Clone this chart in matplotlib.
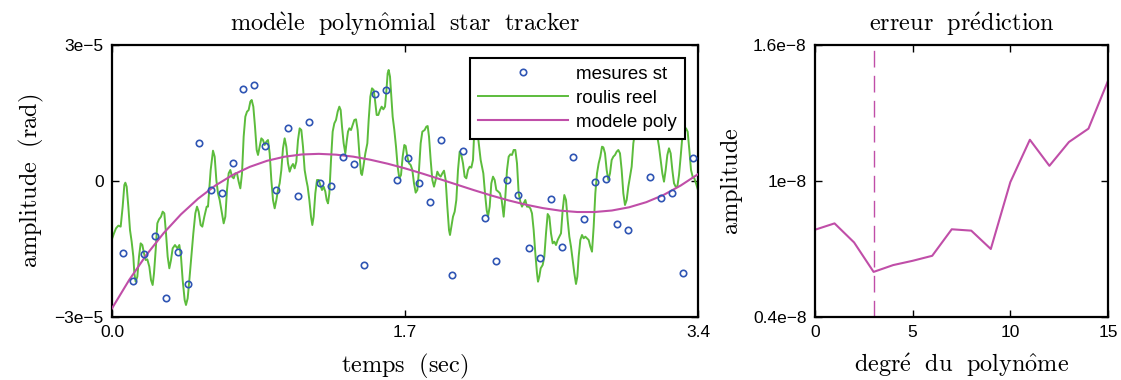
import matplotlib
matplotlib.use("Agg")
import matplotlib.pyplot as plt
from matplotlib.lines import Line2D

# ---------------- data (left panel, values in units of 1e-5 rad) ----------------
meas_t = [0.0621, 0.1236, 0.1874, 0.2512, 0.3150, 0.3812, 0.4427, 0.5065, 0.5744, 0.6365,
          0.7003, 0.7618, 0.8256, 0.8894, 0.9533, 1.0194, 1.0792, 1.1447, 1.2086, 1.2724,
          1.3385, 1.4024, 1.4621, 1.5277, 1.5897, 1.6518, 1.7191, 1.7829, 1.8450, 1.9100,
          1.9727, 2.0383, 2.1659, 2.2291, 2.2918, 2.3556, 2.4212, 2.4833, 2.5471, 2.6109,
          2.6747, 2.7385, 2.8006, 2.8662, 2.9283, 2.9950, 3.1215, 3.1865, 3.2491, 3.3118,
          3.3727]
meas_v = [-1.588, -2.199, -1.604, -1.213, -2.588, -1.560, -2.265, 0.845, -0.199, -0.258,
          0.404, 2.029, 2.118, 0.772, -0.199, 1.163, -0.338, 1.308, -0.037, -0.110,
          0.523, 0.368, -1.860, 1.926, 2.001, 0.029, 0.514, -0.037, -0.468, 0.904,
          -2.078, 0.668, -0.823, -1.765, 0.033, -0.309, -1.485, -1.705, -0.390, -1.463,
          0.529, -0.845, -0.022, 0.037, -0.944, -1.085, 0.093, -0.375, -0.265, -2.029,
          0.514]

true_t = [0.0, 0.0116, 0.0232, 0.0367, 0.0503, 0.0619, 0.0716, 0.0774, 0.0851, 0.0948,
          0.1044, 0.1141, 0.1238, 0.1296, 0.1373, 0.1470, 0.1567, 0.1663, 0.1760, 0.1857,
          0.1953, 0.2050, 0.2166, 0.2263, 0.2359, 0.2437, 0.2534, 0.2630, 0.2727, 0.2843,
          0.2940, 0.3036, 0.3133, 0.3230, 0.3326, 0.3423, 0.3520, 0.3655, 0.3791, 0.3907,
          0.4003, 0.4100, 0.4216, 0.4293, 0.4390, 0.4487, 0.4603, 0.4719, 0.4835, 0.4932,
          0.5028, 0.5144, 0.5241, 0.5357, 0.5493, 0.5570, 0.5725, 0.5860, 0.5957, 0.6054,
          0.6150, 0.6247, 0.6344, 0.6479, 0.6576, 0.6672, 0.6769, 0.6866, 0.6962, 0.7059,
          0.7156, 0.7253, 0.7349, 0.7446, 0.7543, 0.7639, 0.7736, 0.7833, 0.7929, 0.8026,
          0.8104, 0.8200, 0.8297, 0.8394, 0.8471, 0.8568, 0.8664, 0.8761, 0.8858, 0.8955,
          0.9051, 0.9148, 0.9245, 0.9341, 0.9438, 0.9535, 0.9631, 0.9728, 0.9825, 0.9921,
          1.0018, 1.0115, 1.0211, 1.0308, 1.0405, 1.0501, 1.0598, 1.0695, 1.0792, 1.0888,
          1.0985, 1.1082, 1.1178, 1.1275, 1.1353, 1.1450, 1.1546, 1.1623, 1.1700, 1.1797,
          1.1894, 1.1991, 1.2088, 1.2184, 1.2281, 1.2378, 1.2455, 1.2533, 1.2610, 1.2707,
          1.2803, 1.2900, 1.2997, 1.3093, 1.3190, 1.3267, 1.3345, 1.3441, 1.3538, 1.3615,
          1.3693, 1.3770, 1.3867, 1.3964, 1.4060, 1.4157, 1.4254, 1.4350, 1.4447, 1.4505,
          1.4583, 1.4699, 1.4815, 1.4892, 1.4989, 1.5085, 1.5182, 1.5259, 1.5356, 1.5453,
          1.5550, 1.5646, 1.5743, 1.5840, 1.5917, 1.5994, 1.6052, 1.6130, 1.6207, 1.6284,
          1.6381, 1.6478, 1.6574, 1.6671, 1.6768, 1.6865, 1.6961, 1.7039, 1.7135, 1.7232,
          1.7329, 1.7426, 1.7522, 1.7619, 1.7716, 1.7812, 1.7909, 1.8006, 1.8141, 1.8238,
          1.8315, 1.8393, 1.8489, 1.8586, 1.8683, 1.8779, 1.8876, 1.8973, 1.9069, 1.9166,
          1.9263, 1.9360, 1.9456, 1.9553, 1.9611, 1.9688, 1.9785, 1.9882, 1.9978, 2.0075,
          2.0172, 2.0268, 2.0365, 2.0462, 2.0558, 2.0655, 2.0752, 2.0849, 2.0945, 2.1003,
          2.1100, 2.1177, 2.1235, 2.1390, 2.1545, 2.1642, 2.1738, 2.1816, 2.1913, 2.2009,
          2.2106, 2.2203, 2.2299, 2.2415, 2.2512, 2.2609, 2.2725, 2.2821, 2.2918, 2.3015,
          2.3112, 2.3208, 2.3305, 2.3402, 2.3498, 2.3595, 2.3692, 2.3788, 2.3885, 2.3982,
          2.4078, 2.4175, 2.4272, 2.4368, 2.4465, 2.4562, 2.4659, 2.4717, 2.4794, 2.4871,
          2.4988, 2.5084, 2.5181, 2.5278, 2.5374, 2.5471, 2.5568, 2.5664, 2.5761, 2.5858,
          2.5954, 2.6051, 2.6148, 2.6244, 2.6341, 2.6438, 2.6535, 2.6631, 2.6728, 2.6825,
          2.6921, 2.6999, 2.7076, 2.7173, 2.7270, 2.7366, 2.7463, 2.7560, 2.7656, 2.7753,
          2.7850, 2.7947, 2.8043, 2.8140, 2.8237, 2.8333, 2.8430, 2.8507, 2.8604, 2.8701,
          2.8797, 2.8894, 2.8991, 2.9088, 2.9184, 2.9281, 2.9378, 2.9474, 2.9571, 2.9668,
          2.9764, 2.9861, 2.9958, 3.0054, 3.0151, 3.0248, 3.0306, 3.0441, 3.0635, 3.0828,
          3.1022, 3.1312, 3.1505, 3.1640, 3.1737, 3.1834, 3.1931, 3.2027, 3.2124, 3.2221,
          3.2317, 3.2414, 3.2511, 3.2608, 3.2704, 3.2801, 3.2898, 3.2994, 3.3091, 3.3188,
          3.3304, 3.3400, 3.3497, 3.3594, 3.3690, 3.3787, 3.3884, 3.4000]
true_v = [-1.279, -1.154, -1.044, -0.985, -1.007, -0.566, -0.088, -0.037, -0.125, -0.566,
          -1.081, -1.338, -1.669, -2.037, -2.221, -2.110, -1.669, -1.375, -1.412, -1.596,
          -1.743, -1.728, -1.890, -2.184, -2.294, -2.037, -1.522, -0.934, -0.846, -0.787,
          -0.676, -0.713, -1.154, -1.669, -1.926, -1.743, -1.485, -1.412, -1.485, -1.412,
          -1.669, -2.184, -2.625, -2.735, -2.588, -2.184, -1.669, -1.154, -0.713, -0.566,
          -0.676, -0.971, -1.007, -0.787, -0.566, -0.566, 0.243, 0.669, 0.537, 0.022,
          -0.272, -0.419, -0.640, -0.934, -0.787, -0.199, 0.169, 0.243, 0.096, 0.059,
          0.169, 0.169, -0.015, -0.162, 0.169, 0.978, 1.419, 1.529, 1.566, 1.750,
          1.787, 1.640, 1.199, 0.684, 0.574, 0.757, 0.941, 0.904, 0.794, 0.868,
          0.904, 0.610, 0.022, -0.419, -0.603, -0.419, -0.199, -0.051, 0.243, 0.721,
          0.941, 0.757, 0.390, 0.206, 0.316, 0.375, 0.279, 0.426, 0.904, 1.162,
          1.125, 0.757, 0.243, 0.022, -0.125, -0.419, -0.787, -0.971, -0.787, -0.272,
          0.022, 0.022, -0.088, -0.199, -0.125, -0.235, -0.419, -0.493, -0.272, 0.463,
          1.088, 1.272, 1.346, 1.529, 1.640, 1.566, 1.199, 0.831, 0.610, 0.868,
          1.088, 1.162, 1.125, 1.235, 1.346, 1.360, 1.125, 0.610, 0.169, 0.132,
          0.316, 0.610, 0.831, 1.346, 1.860, 2.044, 2.007, 1.787, 1.456, 1.456,
          1.566, 1.640, 1.581, 1.640, 1.971, 2.375, 2.449, 2.302, 1.860, 1.419,
          1.125, 0.757, 0.316, 0.059, 0.132, 0.537, 0.794, 0.772, 0.537, 0.390,
          0.353, 0.243, -0.051, -0.257, -0.199, 0.243, 0.831, 1.088, 1.125, 1.199,
          1.213, 0.978, 0.463, 0.022, -0.125, 0.022, 0.206, 0.132, 0.096, 0.169,
          0.228, 0.022, -0.566, -1.081, -1.191, -1.007, -0.787, -0.676, -0.419, 0.243,
          0.647, 0.574, 0.390, 0.096, 0.059, 0.243, 0.316, 0.294, 0.463, 0.978,
          1.787, 1.787, 0.978, 0.463, 0.169, -0.272, -0.640, -0.787, -0.566, -0.051,
          0.096, 0.022, -0.199, -0.235, -0.272, -0.419, -0.787, -0.346, 0.243, 0.537,
          0.588, 0.574, 0.684, 0.684, 0.390, -0.272, -0.456, -0.566, -0.493, -0.419,
          -0.566, -0.566, -0.603, -0.713, -1.081, -1.596, -2.037, -2.221, -2.110, -1.926,
          -1.853, -1.669, -1.154, -0.728, -0.787, -1.154, -1.375, -1.338, -1.412, -1.301,
          -1.228, -1.154, -0.640, -0.309, -0.419, -0.860, -1.228, -1.449, -1.743, -2.037,
          -2.272, -2.110, -1.669, -1.301, -1.191, -1.265, -1.228, -1.265, -1.301, -1.449,
          -1.559, -1.007, -0.272, 0.169, 0.390, 0.537, 0.757, 0.743, 0.610, 0.243,
          0.022, 0.169, 0.463, 0.537, 0.574, 0.647, 0.684, 0.610, 0.243, -0.272,
          -0.529, -0.419, -0.125, 0.096, 0.316, 0.831, 0.978, 1.566, 1.787, 1.346,
          1.713, 1.566, 1.346, 0.978, 0.757, 0.463, 0.169, -0.015, 0.243, 0.574,
          0.721, 0.610, 0.243, -0.051, -0.125, -0.125, 0.132, 0.537, 0.978, 1.088,
          1.162, 1.088, 0.684, 0.243, 0.096, 0.059, -0.051, -0.200]

poly_t = [0.0, 0.1, 0.2, 0.3, 0.4, 0.5, 0.6, 0.7, 0.8, 0.9, 1.0, 1.1, 1.2, 1.3, 1.4, 1.5, 1.6,
          1.7, 1.8, 1.9, 2.0, 2.1, 2.2, 2.3, 2.4, 2.5, 2.6, 2.7, 2.8, 2.9, 3.0, 3.1, 3.2,
          3.3, 3.4]
poly_v = [-2.810, -2.181, -1.628, -1.148, -0.736, -0.388, -0.099, 0.133, 0.313, 0.446,
          0.535, 0.585, 0.599, 0.581, 0.537, 0.468, 0.381, 0.279, 0.165, 0.044,
          -0.079, -0.202, -0.319, -0.427, -0.521, -0.598, -0.654, -0.684, -0.684, -0.651,
          -0.580, -0.467, -0.308, -0.099, 0.150]

left_xticks = [0.0, 1.7, 3.4]
left_xticklabels = ["0.0", "1.7", "3.4"]
left_yticks = [-3, 0, 3]
left_yticklabels = ["\u22123e\u22125", "0", "3e\u22125"]

# ---------------- data (right panel, values in units of 1e-8) ----------------
degree = [0, 1, 2, 3, 4, 5, 6, 7, 8, 9, 10, 11, 12, 13, 14, 15]
err = [0.785, 0.813, 0.729, 0.599, 0.629, 0.648, 0.670, 0.787, 0.781, 0.700,
       0.995, 1.182, 1.067, 1.172, 1.231, 1.442]
best_degree = 3
right_xticks = [0, 5, 10, 15]
right_yticks = [0.4, 1.0, 1.6]
right_yticklabels = ["0.4e\u22128", "1e\u22128", "1.6e\u22128"]

# ---------------- styling ----------------
BLUE = "#2f55b4"
GREEN = "#5cbc3c"
MAGENTA = "#c04ea8"
SANS = "Liberation Sans"
plt.rcParams["mathtext.fontset"] = "cm"
TFS = 17.5

fig = plt.figure(figsize=(11.21, 3.80), dpi=100)
W, H = 1121.0, 380.0
ax1 = fig.add_axes([112 / W, 63 / H, 586 / W, 272 / H])
ax2 = fig.add_axes([815 / W, 63 / H, 293 / W, 272 / H])

ax1.plot(true_t, true_v, color=GREEN, lw=1.4, zorder=2)
ax1.plot(poly_t, poly_v, color=MAGENTA, lw=1.5, zorder=3)
ax1.plot(meas_t, meas_v, linestyle="none", marker="o", ms=4.6, mfc="none",
         mec=BLUE, mew=1.2, zorder=4)
ax1.set_xlim(0, 3.4)
ax1.set_ylim(-3, 3)
ax1.set_xticks(left_xticks)
ax1.set_xticklabels(left_xticklabels)
ax1.set_yticks(left_yticks)
ax1.set_yticklabels(left_yticklabels)
ax1.set_title(r"$\mathrm{mod\grave{e}le\ \ polyn\hat{o}mial\ \ star\ \ tracker}$",
              fontsize=TFS, pad=10)
ax1.set_xlabel(r"$\mathrm{temps\ \ (sec)}$", fontsize=TFS, labelpad=8)
ax1.set_ylabel(r"$\mathrm{amplitude\ \ (rad)}$", fontsize=TFS, labelpad=6)

handles = [Line2D([], [], linestyle="none", marker="o", ms=4.6, mfc="none", mec=BLUE, mew=1.2),
           Line2D([], [], color=GREEN, lw=1.4),
           Line2D([], [], color=MAGENTA, lw=1.5)]
leg = ax1.legend(handles, ["mesures st", "roulis reel", "modele poly"],
                 loc="upper right", bbox_to_anchor=(0.978, 0.952),
                 prop={"family": SANS, "size": 13.5}, frameon=True, fancybox=False,
                 edgecolor="black", framealpha=1.0, handlelength=4.8,
                 borderpad=0.42, labelspacing=0.36, handletextpad=0.45, borderaxespad=0)
leg.get_frame().set_linewidth(1.5)
leg.set_zorder(10)

ax2.plot(degree, err, color=MAGENTA, lw=1.5)
ax2.axvline(best_degree, color=MAGENTA, lw=1.0, linestyle=(0, (12, 6)))
ax2.set_xlim(0, 15)
ax2.set_ylim(0.4, 1.6)
ax2.set_xticks(right_xticks)
ax2.set_yticks(right_yticks)
ax2.set_yticklabels(right_yticklabels)
ax2.set_title(r"$\mathrm{erreur\ \ pr\acute{e}diction}$", fontsize=TFS, pad=10)
ax2.set_xlabel(r"$\mathrm{degr\acute{e}\ \ du\ \ polyn\hat{o}me}$", fontsize=TFS, labelpad=8)
ax2.set_ylabel(r"$\mathrm{amplitude}$", fontsize=TFS, labelpad=6)

for ax in (ax1, ax2):
    for s in ax.spines.values():
        s.set_linewidth(1.6)
    ax.tick_params(direction="in", top=True, right=True, length=5, width=1.0,
                   labelsize=12.5, pad=6)
    for lab in ax.get_xticklabels() + ax.get_yticklabels():
        lab.set_family(SANS)

fig.savefig("out.png", dpi=100)
